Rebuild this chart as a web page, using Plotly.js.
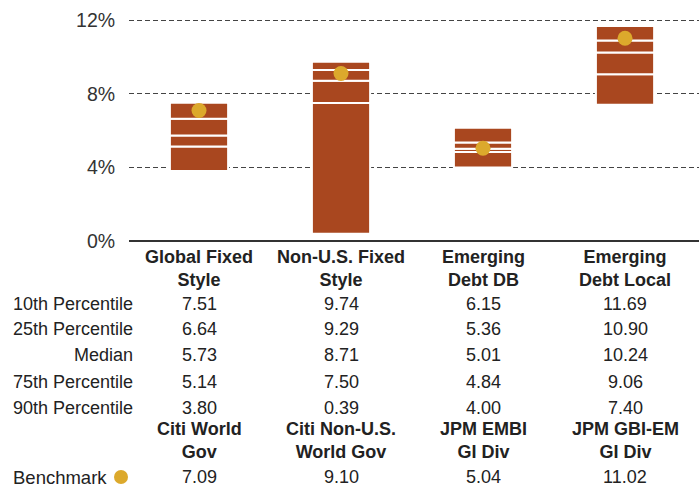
<!DOCTYPE html>
<html>
<head>
<meta charset="utf-8">
<script src="https://cdn.plot.ly/plotly-3.0.1.min.js"></script>
<style>html,body{margin:0;padding:0;background:#fff;}#chart{width:699px;height:491px;}</style>
</head>
<body>
<div id="chart"></div>
<script>
// ---- data ----
const categories = ['Global Fixed<br>Style', 'Non-U.S. Fixed<br>Style', 'Emerging<br>Debt DB', 'Emerging<br>Debt Local'];
const benchmarkNames = ['Citi World<br>Gov', 'Citi Non-U.S.<br>World Gov', 'JPM EMBI<br>GI Div', 'JPM GBI-EM<br>GI Div'];
const p10 = [7.51, 9.74, 6.15, 11.69];
const p25 = [6.64, 9.29, 5.36, 10.90];
const median = [5.73, 8.71, 5.01, 10.24];
const p75 = [5.14, 7.50, 4.84, 9.06];
const p90 = [3.80, 0.39, 4.00, 7.40];
const benchmark = [7.09, 9.10, 5.04, 11.02];
const rowLabels = ['10th Percentile', '25th Percentile', 'Median', '75th Percentile', '90th Percentile'];
const tickVals = [0, 4, 8, 12];

// ---- style ----
const BAR = '#A9471F';
const DOT = '#DCA92C';
const TXT = '#222222';
const FONT = 'Liberation Sans, Arial, Helvetica, sans-serif';
const FS = 18;
const H = 491, T = 11, B = 250, L = 129, W = 699;
const plotH = H - T - B;
const px2paper = py => (H - B - py) / plotH;
const px2paperX = px => (px - L) / (W - L);

const idx = categories.map((_, i) => i);
const segs = [[p90, p75], [p75, median], [median, p25], [p25, p10]];
const traces = segs.map(([lo, hi]) => ({
  type: 'bar', x: idx, base: lo, y: hi.map((v, i) => v - lo[i]),
  width: 0.41, marker: {color: BAR, line: {color: '#ffffff', width: 2}},
  showlegend: false, hoverinfo: 'skip'
}));
traces.push({
  type: 'scatter', mode: 'markers', x: idx, y: benchmark,
  marker: {color: DOT, size: 15}, showlegend: false, cliponaxis: false
});

const ann = [];
const rows = [p10, p25, median, p75, p90];
const rowPx = [304, 329, 355, 382, 408];
const f = {family: FONT, size: FS, color: TXT};
categories.forEach((c, i) => {
  ann.push({x: i, xref: 'x', y: px2paper(268), yref: 'paper', text: '<b>' + c + '</b>', showarrow: false,
    font: f, xanchor: 'center', yanchor: 'middle'});
  ann.push({x: i, xref: 'x', y: px2paper(440), yref: 'paper', text: '<b>' + benchmarkNames[i] + '</b>', showarrow: false,
    font: f, xanchor: 'center', yanchor: 'middle'});
  rows.forEach((r, k) => {
    ann.push({x: i, xref: 'x', y: px2paper(rowPx[k]), yref: 'paper', text: r[i].toFixed(2), showarrow: false,
      font: f, xanchor: 'center', yanchor: 'middle'});
  });
  ann.push({x: i, xref: 'x', y: px2paper(477), yref: 'paper', text: benchmark[i].toFixed(2), showarrow: false,
    font: f, xanchor: 'center', yanchor: 'middle'});
});
rowLabels.forEach((lab, k) => {
  ann.push({x: px2paperX(135), xref: 'paper', y: px2paper(rowPx[k]), yref: 'paper', text: lab, showarrow: false,
    font: f, xanchor: 'right', yanchor: 'middle'});
});
ann.push({x: px2paperX(109), xref: 'paper', y: px2paper(477), yref: 'paper',
  text: 'Benchmark', showarrow: false, font: {family: FONT, size: 18.5, color: TXT}, xanchor: 'right', yanchor: 'middle'});

const shapes = [{
  type: 'circle', xref: 'paper', yref: 'paper',
  x0: px2paperX(114), x1: px2paperX(128), y0: px2paper(484), y1: px2paper(470),
  fillcolor: DOT, line: {width: 0}
}];

const layout = {
  width: W, height: H,
  margin: {l: L, r: 0, t: T, b: B, pad: 0},
  paper_bgcolor: '#ffffff', plot_bgcolor: '#ffffff',
  barmode: 'overlay', showlegend: false,
  xaxis: {range: [-0.493, 3.521], visible: false, fixedrange: true},
  yaxis: {range: [0, 12.5], tickvals: tickVals, ticktext: tickVals.map(v => v + '%'),
    showgrid: true, gridcolor: '#444444', gridwidth: 1, griddash: '5px,3px',
    zeroline: true, zerolinecolor: '#333333', zerolinewidth: 2,
    ticks: 'outside', ticklen: 9, tickcolor: 'rgba(0,0,0,0)',
    tickfont: {family: FONT, size: 19.5, color: '#333333'}, showline: false, fixedrange: true},
  annotations: ann,
  shapes: shapes
};
Plotly.newPlot('chart', traces, layout, {displayModeBar: false, staticPlot: true});
</script>
</body>
</html>
